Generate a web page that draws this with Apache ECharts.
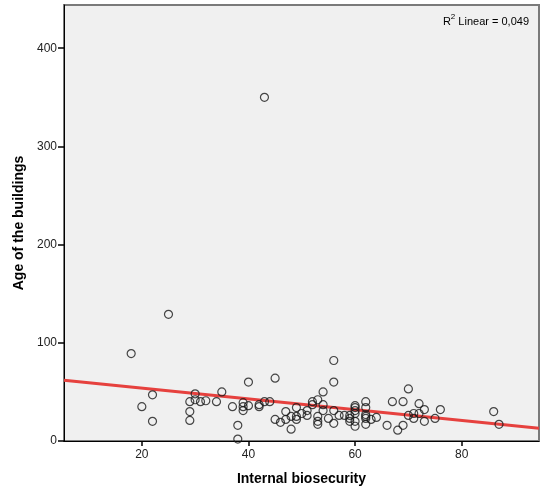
<!DOCTYPE html>
<html>
<head>
<meta charset="utf-8">
<script src="https://cdn.jsdelivr.net/npm/echarts@6/dist/echarts.min.js"></script>
<style>
html,body{margin:0;padding:0;background:#fff;}
#chart{width:553px;height:496px;}
</style>
</head>
<body>
<div id="chart"></div>
<script>
// Internal biosecurity (x) values
const biosecurity = [18,25,43,22,20,22,29,29,29,30,30,31,32,34,35,37,38,38,39,39,39,40,40,42,42,43,44,45,45,46,47,47,48,48,49,49,49,50,51,51,52,52,53,53,53,53,54,54,54,55,56,56,56,56,57,58,59,59,59,60,60,60,60,60,60,62,62,62,62,62,62,63,64,66,67,68,69,69,70,70,71,71,72,72,73,73,75,76,86,87];
// Age of the buildings (y) values
const buildingAge = [89,129,350,47,35,20,40,30,21,48,42,40,41,40,50,35,16,2,39,35,31,60,36,37,35,40,40,64,22,19,30,22,25,12,34,25,22,28,31,26,40,37,42,25,20,17,50,37,31,23,82,60,31,18,26,26,26,23,20,36,34,31,28,20,15,40,34,27,25,23,17,22,24,16,40,11,40,16,53,26,28,23,38,28,32,20,23,32,30,17];
const xTicks = [20,40,60,80];
const yTicks = [0,100,200,300,400];
const xRange = [5.4, 94.5];
const yRange = [0, 444];
const r2Label = '0,049';

// least-squares linear fit of the data
const n = biosecurity.length;
let sx=0, sy=0, sxx=0, sxy=0;
for (let i=0;i<n;i++){ sx+=biosecurity[i]; sy+=buildingAge[i]; sxx+=biosecurity[i]*biosecurity[i]; sxy+=biosecurity[i]*buildingAge[i]; }
const slope = (n*sxy - sx*sy)/(n*sxx - sx*sx);
const intercept = (sy - slope*sx)/n;
const fitLine = xRange.map(x => [x, intercept + slope*x]);

const points = biosecurity.map((x,i) => [x, buildingAge[i]]);

const chart = echarts.init(document.getElementById('chart'), null, {renderer:'canvas'});
const font = 'Arial, "Liberation Sans", sans-serif';
chart.setOption({
  animation: false,
  backgroundColor: '#ffffff',
  grid: {left: 64, top: 5, right: 14, bottom: 55, show: true, backgroundColor: '#f0f0f0', borderColor: '#7a7a7a', borderWidth: 2},
  xAxis: {
    type: 'value', min: xRange[0], max: xRange[1],
    name: 'Internal biosecurity', nameLocation: 'middle', nameGap: 31,
    nameTextStyle: {fontFamily: font, fontWeight: 'bold', fontSize: 14, color: '#000'},
    axisLine: {onZero: false, lineStyle: {color: '#000', width: 1}},
    axisTick: {show: true, length: 5, customValues: xTicks, lineStyle: {color: '#000', width: 1.5}},
    axisLabel: {customValues: xTicks, fontFamily: font, fontSize: 12, color: '#222', margin: 8},
    splitLine: {show: false}
  },
  yAxis: {
    type: 'value', min: yRange[0], max: yRange[1],
    name: 'Age of the buildings', nameLocation: 'middle', nameGap: 31,
    nameTextStyle: {fontFamily: font, fontWeight: 'bold', fontSize: 14, color: '#000'},
    axisLine: {show: true, onZero: false, lineStyle: {color: '#000', width: 1}},
    axisTick: {show: true, length: 6, customValues: yTicks, lineStyle: {color: '#000', width: 1.5}},
    axisLabel: {customValues: yTicks, fontFamily: font, fontSize: 12, color: '#222', margin: 7},
    splitLine: {show: false}
  },
  series: [
    {
      type: 'line', data: fitLine, showSymbol: false, symbol: 'none',
      lineStyle: {color: '#e6413e', width: 3}, z: 2, silent: true
    },
    {
      type: 'scatter', data: points, symbol: 'circle', symbolSize: 8,
      itemStyle: {color: 'rgba(0,0,0,0)', borderColor: '#1a1a1a', borderWidth: 1.2}, z: 3
    }
  ],
  graphic: [{
    type: 'text', right: 24, top: 13,
    style: {
      text: '{r|R}{s|2}{r| Linear = ' + r2Label + '}',
      rich: {
        r: {fontFamily: font, fontSize: 11, fill: '#000', lineHeight: 14, verticalAlign: 'bottom'},
        s: {fontFamily: font, fontSize: 8, fill: '#000', lineHeight: 14, verticalAlign: 'top', padding: [0,0,6,0]}
      }
    }
  }]
});
</script>
</body>
</html>
